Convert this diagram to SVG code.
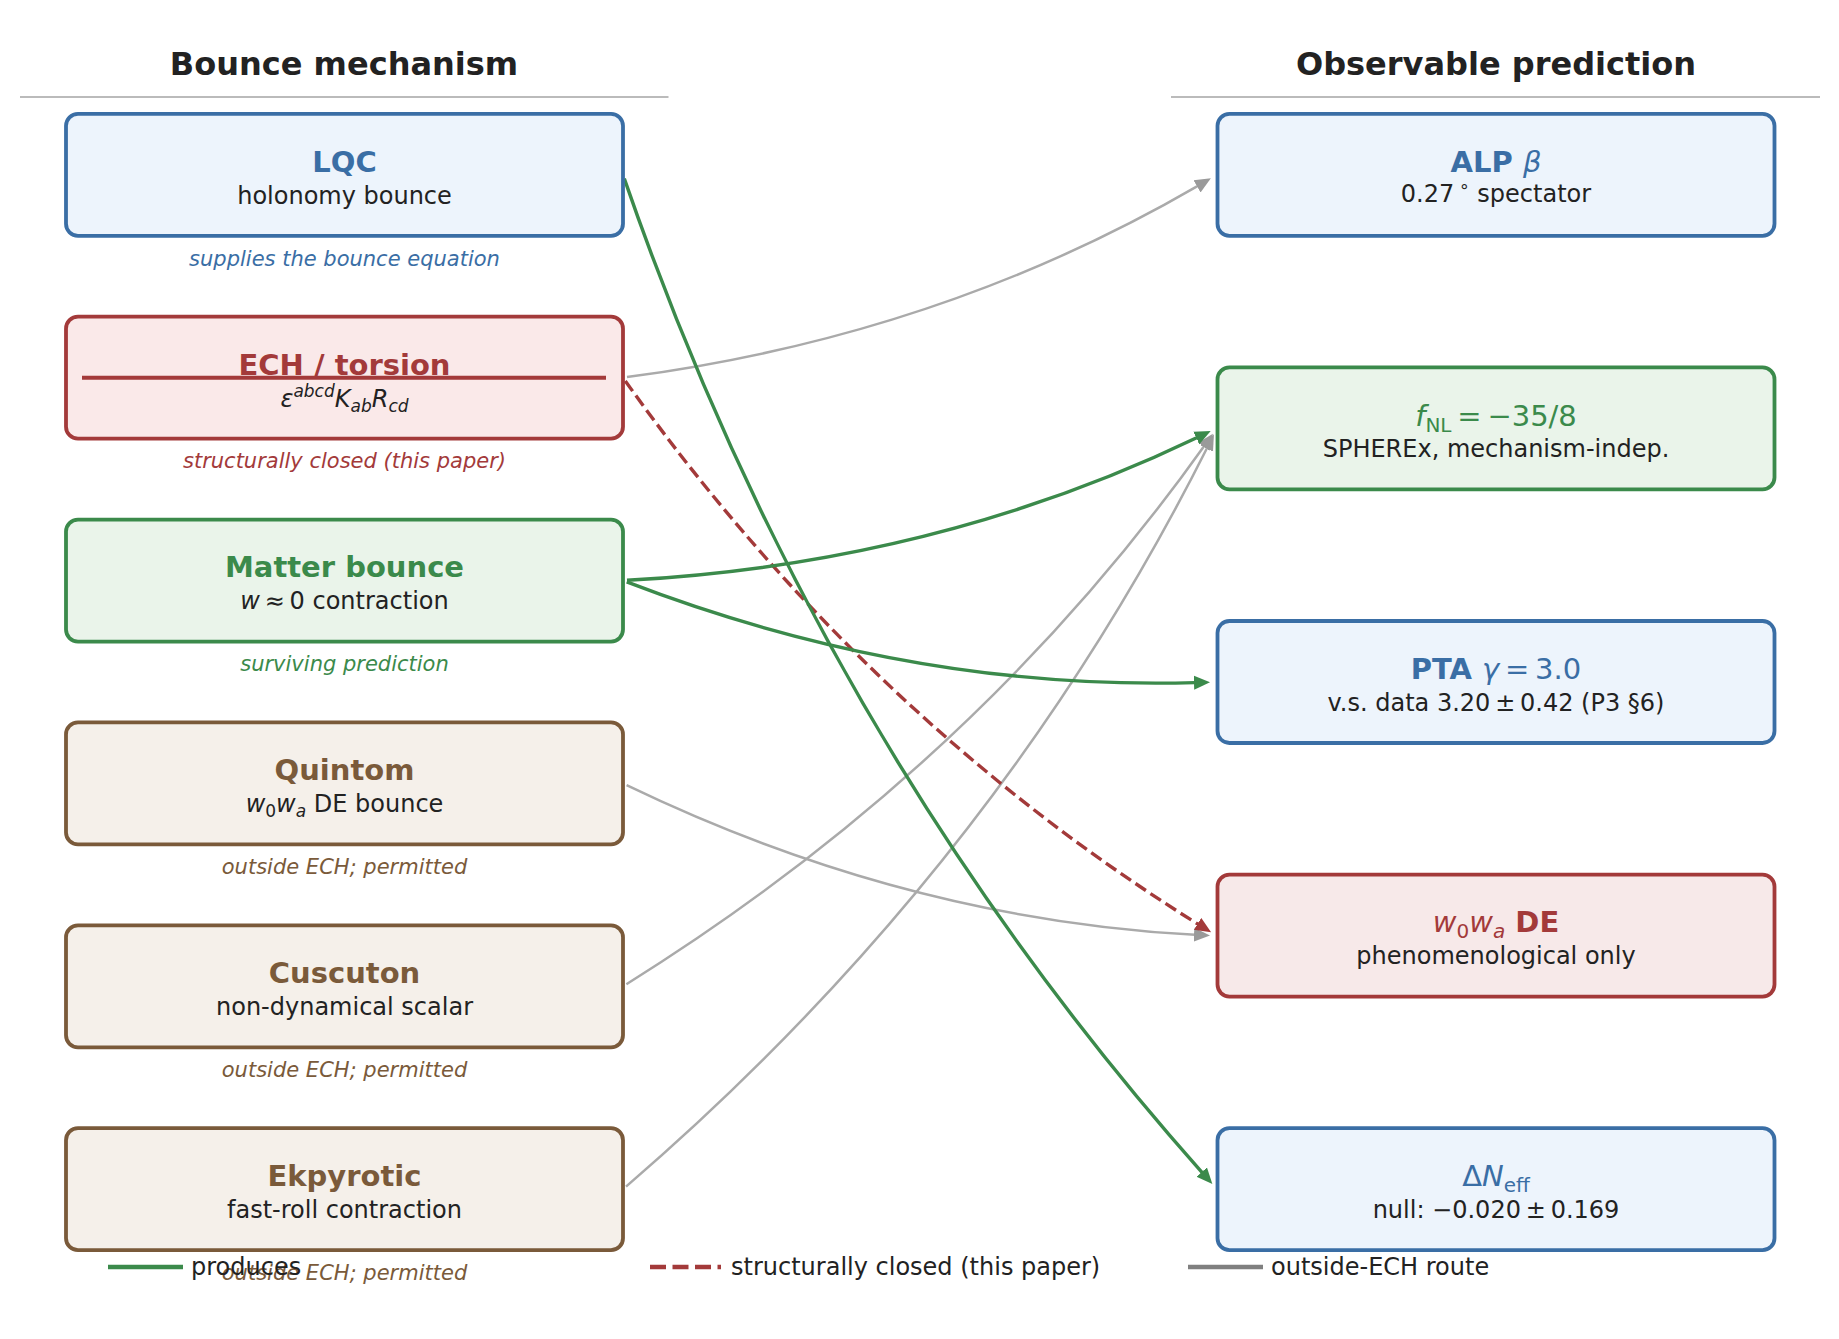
<svg xmlns="http://www.w3.org/2000/svg" width="1839" height="1339" viewBox="0 0 1839 1339">
<style>
text{font-family:"DejaVu Sans","Liberation Sans",sans-serif;fill:#222222}
.hdr{font-size:32px;font-weight:bold;text-anchor:middle}
.ttl{font-size:29px;font-weight:bold;text-anchor:middle}
.sub{font-size:24px;text-anchor:middle}
.cap{font-size:21px;font-style:italic;text-anchor:middle}
.leg{font-size:24px}
.i{font-style:italic;font-weight:normal}
.s{font-size:17px}
.n{font-weight:normal}
.blue rect{fill:#edf4fc;stroke:#3a6ea5}
.red rect{fill:#fae9e9;stroke:#a33a3a}
.green rect{fill:#eaf4ea;stroke:#3b8a4b}
.brown rect{fill:#f5f0ea;stroke:#7a5a3a}
rect{stroke-width:3.8}
.blue .ttl,.blue .cap{fill:#3a6ea5}
.red .ttl,.red .cap{fill:#a33a3a}
.green .ttl,.green .cap{fill:#3b8a4b}
.brown .ttl,.brown .cap{fill:#7a5a3a}
.cg{fill:none;stroke:#3b8a4b;stroke-width:3.4}
.cr{fill:none;stroke:#a33a3a;stroke-width:3.4;stroke-dasharray:12.5 5.5}
.cy{fill:none;stroke:#aaaaaa;stroke-width:2.5}
</style>
<defs>
<marker id="ag" markerUnits="userSpaceOnUse" viewBox="-1 -8 18 16" markerWidth="18" markerHeight="16" refX="0" refY="0" orient="auto"><path d="M-1,-7 L15,0 L-1,7 Z" fill="#3b8a4b"/></marker>
<marker id="ar" markerUnits="userSpaceOnUse" viewBox="-1 -8 18 16" markerWidth="18" markerHeight="16" refX="0" refY="0" orient="auto"><path d="M-1,-7 L15,0 L-1,7 Z" fill="#a33a3a"/></marker>
<marker id="ay" markerUnits="userSpaceOnUse" viewBox="-1 -8 18 16" markerWidth="18" markerHeight="16" refX="0" refY="0" orient="auto"><path d="M-1,-7 L15,0 L-1,7 Z" fill="#9a9a9a"/></marker>
</defs>
<rect x="0" y="0" width="1839" height="1339" fill="#ffffff" stroke="none"/>

<g id="headers">
<text class="hdr" x="344" y="75">Bounce mechanism</text>
<line x1="20" y1="97" x2="668.5" y2="97" stroke="#bbbbbb" stroke-width="2"/>
<text class="hdr" x="1496" y="75">Observable prediction</text>
<line x1="1171" y1="97" x2="1820" y2="97" stroke="#bbbbbb" stroke-width="2"/>
</g>

<g id="connectors">
<path class="cy" d="M627,377.1 Q940.3,335.6 1197.9,185.9" marker-end="url(#ay)"/>
<path class="cy" d="M626.6,785.1 Q904.7,919.1 1195,934.8" marker-end="url(#ay)"/>
<path class="cy" d="M626.4,984.2 Q975.8,766.6 1204.2,445.9" marker-end="url(#ay)"/>
<path class="cy" d="M626,1186.6 Q996.1,868 1207.2,447.7" marker-end="url(#ay)"/>
<path class="cr" d="M625.3,380.9 Q864.2,716.2 1198.4,924.4" marker-end="url(#ar)"/>
<path class="cg" d="M624.3,178.6 Q818.6,741.4 1202.4,1172.8" marker-end="url(#ag)"/>
<path class="cg" d="M627,580.3 Q935.25,563.65 1197.2,437.5" marker-end="url(#ag)"/>
<path class="cg" d="M626.7,581.9 Q909.85,690.65 1195,682.6" marker-end="url(#ag)"/>
</g>

<g id="node-lqc" class="blue">
<rect x="66" y="113.8" width="557" height="122" rx="12"/>
<text class="ttl" x="344.5" y="172">LQC</text>
<text class="sub" x="344.5" y="204">holonomy bounce</text>
<text class="cap" x="344.5" y="266">supplies the bounce equation</text>
</g>

<g id="node-ech" class="red">
<rect x="66" y="316.7" width="557" height="122" rx="12"/>
<text class="ttl" x="344.5" y="375">ECH / torsion</text>
<line x1="82" y1="377.7" x2="606" y2="377.7" stroke="#a33a3a" stroke-width="4"/>
<text class="sub" x="344.5" y="407"><tspan class="i">ε</tspan><tspan class="i s" dy="-10">abcd</tspan><tspan class="i" dy="10">K</tspan><tspan class="i s" dy="5">ab</tspan><tspan class="i" dy="-5">R</tspan><tspan class="i s" dy="5">cd</tspan></text>
<text class="cap" x="344.5" y="468">structurally closed (this paper)</text>
</g>

<g id="node-matter" class="green">
<rect x="66" y="519.6" width="557" height="122" rx="12"/>
<text class="ttl" x="344.5" y="577">Matter bounce</text>
<text class="sub" x="344.5" y="609"><tspan class="i">w</tspan>&#8201;≈&#8201;0 contraction</text>
<text class="cap" x="344.5" y="670.5">surviving prediction</text>
</g>

<g id="node-quintom" class="brown">
<rect x="66" y="722.4" width="557" height="122" rx="12"/>
<text class="ttl" x="344.5" y="780">Quintom</text>
<text class="sub" x="344.5" y="812"><tspan class="i">w</tspan><tspan class="s" dy="5">0</tspan><tspan class="i" dy="-5">w</tspan><tspan class="i s" dy="5">a</tspan><tspan dy="-5"> DE bounce</tspan></text>
<text class="cap" x="344.5" y="873.5">outside ECH; permitted</text>
</g>

<g id="node-cuscuton" class="brown">
<rect x="66" y="925.3" width="557" height="122" rx="12"/>
<text class="ttl" x="344.5" y="983">Cuscuton</text>
<text class="sub" x="344.5" y="1015">non-dynamical scalar</text>
<text class="cap" x="344.5" y="1076.5">outside ECH; permitted</text>
</g>

<g id="node-ekpyrotic" class="brown">
<rect x="66" y="1128.2" width="557" height="122" rx="12"/>
<text class="ttl" x="344.5" y="1186">Ekpyrotic</text>
<text class="sub" x="344.5" y="1218">fast-roll contraction</text>
<text class="cap" x="344.5" y="1279.5">outside ECH; permitted</text>
</g>

<g id="node-alp" class="blue">
<rect x="1217.5" y="113.8" width="557" height="122" rx="12"/>
<text class="ttl" x="1496" y="172">ALP <tspan class="i">β</tspan></text>
<text class="sub" x="1496" y="202">0.27&#8201;<tspan class="s" dy="-10">∘</tspan><tspan dy="10">  spectator</tspan></text>
</g>

<g id="node-fnl" class="green">
<rect x="1217.5" y="367.4" width="557" height="122" rx="12"/>
<text class="ttl n" x="1496" y="425.5"><tspan class="i">f</tspan><tspan style="font-size:20px" dy="6">NL</tspan><tspan dy="-6">&#8201;=&#8201;−35/8</tspan></text>
<text class="sub" x="1496" y="457">SPHEREx, mechanism-indep.</text>
</g>

<g id="node-pta" class="blue">
<rect x="1217.5" y="621" width="557" height="122" rx="12"/>
<text class="ttl" x="1496" y="678.5">PTA <tspan class="i">γ</tspan><tspan class="n">&#8201;=&#8201;3.0</tspan></text>
<text class="sub" x="1496" y="711">v.s. data 3.20&#8201;±&#8201;0.42 (P3 §6)</text>
</g>

<g id="node-w0wa" class="red">
<rect x="1217.5" y="874.6" width="557" height="122" rx="12" style="fill:#f7e9e9"/>
<text class="ttl" x="1496" y="932"><tspan class="i">w</tspan><tspan class="n" style="font-size:20px" dy="6">0</tspan><tspan class="i" dy="-6">w</tspan><tspan class="i" style="font-size:20px" dy="6">a</tspan><tspan dy="-6"> DE</tspan></text>
<text class="sub" x="1496" y="964">phenomenological only</text>
</g>

<g id="node-dneff" class="blue">
<rect x="1217.5" y="1128.2" width="557" height="122" rx="12"/>
<text class="ttl n" x="1496" y="1186">Δ<tspan class="i">N</tspan><tspan style="font-size:20px" dy="6">eff</tspan></text>
<text class="sub" x="1496" y="1218">null: −0.020&#8201;±&#8201;0.169</text>
</g>

<g id="legend">
<line x1="108" y1="1267" x2="183" y2="1267" stroke="#3b8a4b" stroke-width="4.5"/>
<text class="leg" x="191" y="1275">produces</text>
<line x1="650" y1="1267" x2="721" y2="1267" stroke="#a33a3a" stroke-width="4.5" stroke-dasharray="16 6.5"/>
<text class="leg" x="731" y="1275">structurally closed (this paper)</text>
<line x1="1188" y1="1267" x2="1263" y2="1267" stroke="#808080" stroke-width="4.5"/>
<text class="leg" x="1271" y="1275">outside-ECH route</text>
</g>
</svg>
